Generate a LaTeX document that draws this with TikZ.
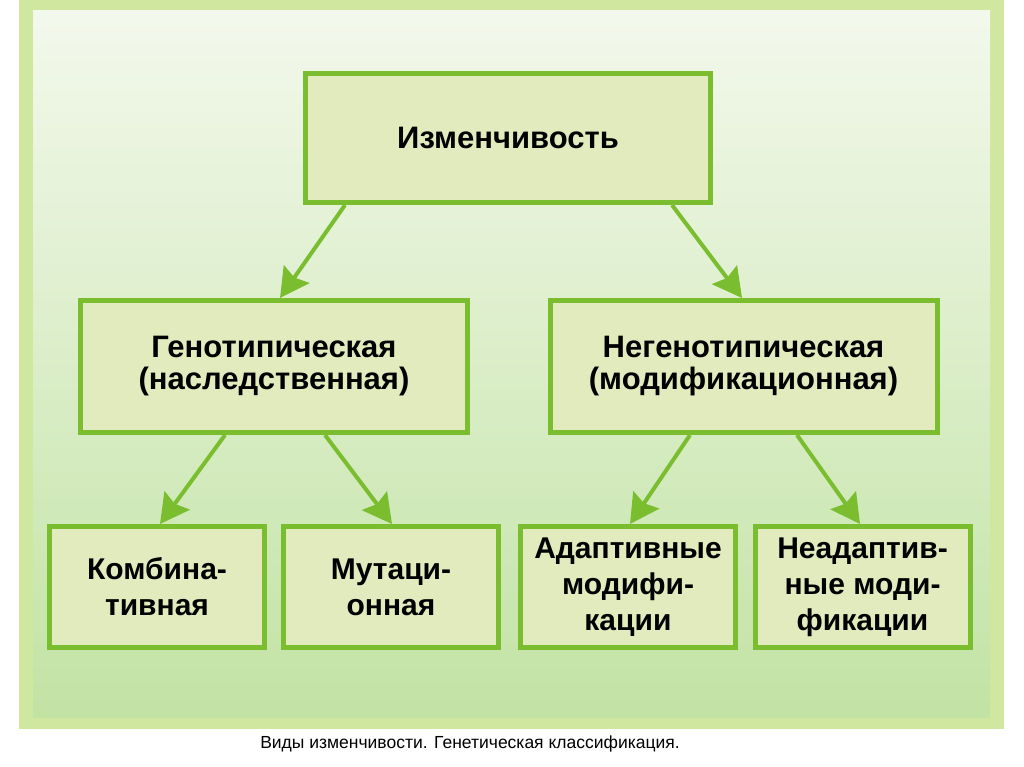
\documentclass[tikz,border=0pt]{standalone}
\usepackage{fontspec}
\setmainfont{Liberation Sans}
\usepackage{tikz}
\usetikzlibrary{arrows.meta,positioning}
\usepackage{xcolor}
\definecolor{colBorder}{RGB}{122,190,48}
\definecolor{colFill}{RGB}{225,235,190}
\definecolor{colFrame}{RGB}{208,231,160}
\definecolor{colTop}{RGB}{243,248,236}
\definecolor{colBottom}{RGB}{194,227,164}
\tikzset{
  topbox/.style = {rectangle, draw=colBorder, line width=5pt, fill=colFill,
                   text centered, minimum width=405pt, minimum height=129pt,
                   font=\bfseries\fontsize{31}{33}\selectfont},
  midbox/.style = {rectangle, draw=colBorder, line width=5pt, fill=colFill,
                   align=center, minimum width=387pt, minimum height=132pt,
                   font=\bfseries\fontsize{31}{32}\selectfont},
  lowbox/.style = {rectangle, draw=colBorder, line width=5pt, fill=colFill,
                   align=center, minimum width=215pt, minimum height=121pt,
                   inner sep=2pt, font=\bfseries\fontsize{30}{36}\selectfont},
  arr/.style    = {-{Stealth[length=29pt,width=31pt,inset=4pt]},
                   line width=4pt, draw=colBorder},
}
\begin{document}
\begin{tikzpicture}[x=1pt, y=1pt]
\useasboundingbox (0,0) rectangle (1024,-767);

%% -- Frame and background --
\fill[colFrame] (19,0) rectangle (1004,-729);
\shade[top color=colTop, bottom color=colBottom] (33,-11) rectangle (990,-717);

%% -- Row 0: root --
\node[topbox] (izm) at (508,-138) {Изменчивость};

%% -- Row 1: two kinds --
\node[midbox, below=93pt of izm, xshift=-234pt] (geno)
  {Генотипическая\\(наследственная)};
\node[midbox, below=93pt of izm, xshift=235.5pt] (negeno)
  {Негенотипическая\\(модификационная)};

%% -- Row 2: subkinds --
\node[lowbox, below=89pt of geno, xshift=-117pt] (komb) {Комбина-\\тивная};
\node[lowbox, below=89pt of geno, xshift=117pt]  (mut)  {Мутаци-\\онная};
\node[lowbox, below=89pt of negeno, xshift=-115.5pt] (adap)
  {Адаптивные\\модифи-\\кации};
\node[lowbox, below=89pt of negeno, xshift=119pt] (neadap)
  {Неадаптив-\\ные моди-\\фикации};

%% -- Caption --
\node[anchor=base, font=\fontsize{17.5}{20}\selectfont] (caption) at (470,-748)
  {Виды изменчивости. Генетическая классификация.};

%% -- Arrows --
\draw[arr] ([xshift=-163pt]izm.south) -- ([xshift=6pt]geno.north);
\draw[arr] ([xshift=164pt]izm.south)  -- ([xshift=-1.5pt]negeno.north);
\draw[arr] ([xshift=-49pt]geno.south) -- ([xshift=3pt]komb.north);
\draw[arr] ([xshift=51pt]geno.south)  -- ([xshift=1pt]mut.north);
\draw[arr] ([xshift=-53.5pt]negeno.south) -- ([xshift=2pt]adap.north);
\draw[arr] ([xshift=53.5pt]negeno.south)  -- ([xshift=-2.5pt]neadap.north);

\end{tikzpicture}
\end{document}
